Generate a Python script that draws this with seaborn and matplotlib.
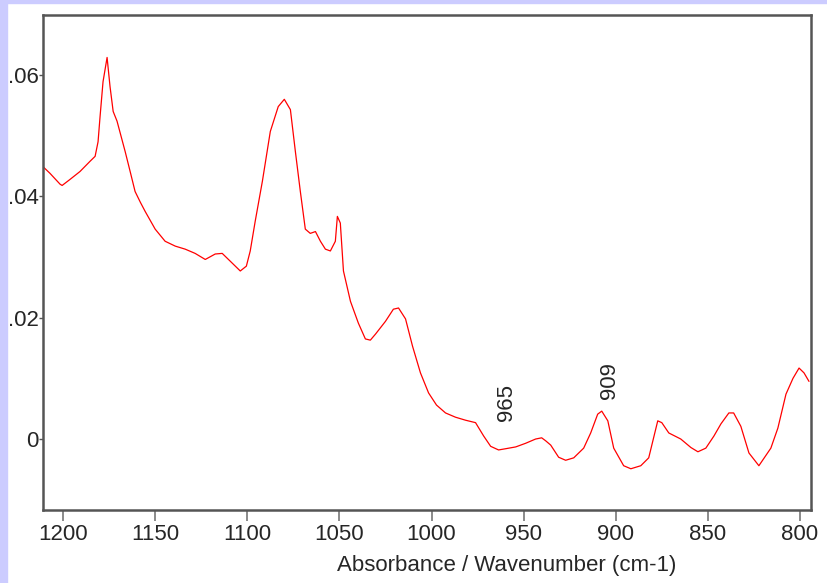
import numpy as np
import pandas as pd
import seaborn as sns
import matplotlib
matplotlib.use('Agg')
import matplotlib.pyplot as plt
from matplotlib.patches import Rectangle

# spectrum (wavenumber in cm-1, absorbance)
wavenumber = [1210.9, 1207.1, 1201.6, 1200.5, 1196.2, 1190.8, 1185.3, 1182.6, 1181.0, 1179.9,
              1178.3, 1176.1, 1174.5, 1172.8, 1170.7, 1166.3, 1163.5, 1160.9, 1158.0, 1155.4,
              1150.0, 1144.6, 1139.1, 1133.7, 1128.3, 1122.8, 1117.4, 1113.6, 1109.2, 1103.8,
              1100.5, 1098.4, 1095.7, 1091.8, 1087.5, 1083.2, 1079.9, 1076.6, 1073.9, 1071.2,
              1068.5, 1065.8, 1063.0, 1060.3, 1057.6, 1054.9, 1052.2, 1051.1, 1049.5, 1047.8,
              1044.0, 1039.7, 1035.9, 1033.2, 1030.4, 1025.0, 1020.7, 1017.9, 1014.1, 1010.3,
              1006.0, 1001.6, 997.3, 992.4, 987.0, 981.5, 976.1, 971.7, 967.9, 963.6,
              959.8, 954.3, 948.9, 943.5, 940.2, 938.0, 935.3, 931.0, 927.2, 922.8,
              917.4, 913.6, 909.8, 907.6, 904.3, 901.1, 895.7, 891.8, 886.4, 882.1,
              877.2, 875.0, 871.2, 864.7, 859.2, 855.4, 851.1, 846.7, 842.9, 838.6,
              836.0, 832.1, 827.7, 822.3, 815.8, 812.0, 807.6, 803.8, 800.5, 797.8,
              795.1]
absorbance = [0.0449, 0.0438, 0.0420, 0.0418, 0.0428, 0.0441, 0.0458, 0.0466, 0.0490, 0.0532,
              0.0589, 0.0629, 0.0581, 0.0540, 0.0524, 0.0474, 0.0440, 0.0408, 0.0390, 0.0375,
              0.0346, 0.0326, 0.0318, 0.0313, 0.0306, 0.0296, 0.0305, 0.0306, 0.0293, 0.0277,
              0.0285, 0.0310, 0.0359, 0.0425, 0.0507, 0.0548, 0.0560, 0.0543, 0.0474, 0.0408,
              0.0346, 0.0339, 0.0342, 0.0326, 0.0313, 0.0310, 0.0326, 0.0367, 0.0356, 0.0277,
              0.0227, 0.0191, 0.0165, 0.0163, 0.0173, 0.0194, 0.0214, 0.0216, 0.0198, 0.0153,
              0.0109, 0.0076, 0.0056, 0.0043, 0.0036, 0.0031, 0.0027, 0.0005, -0.0012, -0.0018,
              -0.0016, -0.0013, -0.0007, 0.0000, 0.0002, -0.0003, -0.0010, -0.0030, -0.0035, -0.0031,
              -0.0015, 0.0010, 0.0041, 0.0046, 0.0030, -0.0015, -0.0044, -0.0049, -0.0044, -0.0031,
              0.0030, 0.0027, 0.0010, 0.0000, -0.0014, -0.0021, -0.0015, 0.0005, 0.0025, 0.0043,
              0.0043, 0.0021, -0.0023, -0.0044, -0.0015, 0.0018, 0.0074, 0.0100, 0.0117, 0.0109,
              0.0095]

peak_pos = [965, 909]
peak_y = [0.0030, 0.0066]
peak_labels = ['965', '909']

yticks = [0, 0.02, 0.04, 0.06]
ytick_labels = ['0', '.02', '.04', '.06']
xticks = [1200, 1150, 1100, 1050, 1000, 950, 900, 850, 800]

df = pd.DataFrame({'wn': wavenumber, 'abs': absorbance})

sns.set_style('ticks')
plt.rcParams['font.family'] = ['Liberation Sans', 'DejaVu Sans']

fig = plt.figure(figsize=(8.28, 5.83), dpi=100)
fig.patch.set_facecolor('white')
# slide background strips
fig.patches.append(Rectangle((0, 0), 7 / 828, 1, transform=fig.transFigure,
                             color='#ccccff', zorder=-1))
fig.patches.append(Rectangle((0, 1 - 3 / 583), 1, 3 / 583, transform=fig.transFigure,
                             color='#ccccff', zorder=-1))

ax = fig.add_axes([0.0519, 0.1252, 0.9276, 0.8491])
sns.lineplot(data=df, x='wn', y='abs', color='red', lw=0.9, ax=ax)

ax.set_xlim(1210.9, 794.0)
ax.set_ylim(-0.0117, 0.0699)
ax.set_xticks(xticks)
ax.set_xticklabels([str(t) for t in xticks], fontsize=16)
ax.set_yticks(yticks)
ax.set_yticklabels(ytick_labels, fontsize=16)
ax.tick_params(axis='x', length=8, width=1.2, color='#777777', pad=2)
ax.tick_params(axis='y', length=3, width=1, color='#555555', pad=0)

for s in ax.spines.values():
    s.set_visible(True)
    s.set_color('#555555')
    s.set_linewidth(1.8)

ax.set_ylabel('')
ax.set_xlabel('Absorbance / Wavenumber (cm-1)', fontsize=16)
ax.xaxis.set_label_coords(0.604, -0.112)
ax.xaxis.label.set_verticalalignment('center')

for x, y, t in zip(peak_pos, peak_y, peak_labels):
    ax.text(x, y, t, rotation=90, fontsize=16, ha='left', va='bottom')

fig.savefig('out.png', dpi=100)
